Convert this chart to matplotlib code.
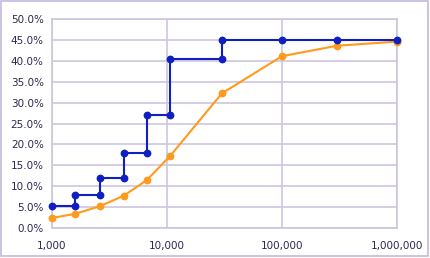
import matplotlib
matplotlib.use("Agg")
import matplotlib.pyplot as plt
from matplotlib.ticker import FuncFormatter, FixedLocator
from matplotlib.patches import Rectangle

# Data
step_x = [1000, 1600, 1600, 2600, 2600, 4200, 4200, 6700, 6700, 10700, 10700,
          30000, 30000, 100000, 300000, 1000000]
step_y = [5.2, 5.2, 8.0, 8.0, 12.0, 12.0, 18.0, 18.0, 27.0, 27.0, 40.5,
          40.5, 45.0, 45.0, 45.0, 45.0]
curve_x = [1000, 1600, 2600, 4200, 6700, 10700, 30000, 100000, 300000, 1000000]
curve_y = [2.4, 3.4, 5.2, 7.7, 11.5, 17.3, 32.2, 41.1, 43.6, 44.6]
x_ticks = [1000, 10000, 100000, 1000000]
y_ticks = [0, 5, 10, 15, 20, 25, 30, 35, 40, 45, 50]

grid_c = "#cdc5df"
text_c = "#2b2850"
blue = "#1020c0"
orange = "#ff9a1c"

fig = plt.figure(figsize=(4.3, 2.58), dpi=100)
fig.patches.append(Rectangle((0.003, 0.006), 0.992, 0.99, transform=fig.transFigure,
                             fill=False, edgecolor="#c4b9dc", linewidth=1.2))
ax = fig.add_axes([52/430, 1-228/258, (397-52)/430, (228-19)/258])
ax.set_xscale("log")
ax.set_xlim(1000, 1000000)
ax.set_ylim(0, 50)
ax.xaxis.set_major_locator(FixedLocator(x_ticks))
ax.xaxis.set_minor_locator(FixedLocator([]))
ax.yaxis.set_major_locator(FixedLocator(y_ticks))
ax.xaxis.set_major_formatter(FuncFormatter(lambda v, p: f"{int(round(v)):,}"))
ax.yaxis.set_major_formatter(FuncFormatter(lambda v, p: f"{v:.1f}%"))
ax.grid(True, color=grid_c, linewidth=1.2)
ax.set_axisbelow(True)
for s in ax.spines.values():
    s.set_color(grid_c)
    s.set_linewidth(1.2)
ax.tick_params(length=0, labelsize=7.5, labelcolor=text_c, pad=6)
ax.tick_params(axis="x", pad=9)

ax.plot(curve_x, curve_y, color=orange, linewidth=1.5, marker="o", markersize=4.6, clip_on=False, zorder=3)
ax.plot(step_x, step_y, color=blue, linewidth=1.5, marker="o", markersize=4.6, clip_on=False, zorder=4)

fig.savefig("out.png", dpi=100)
